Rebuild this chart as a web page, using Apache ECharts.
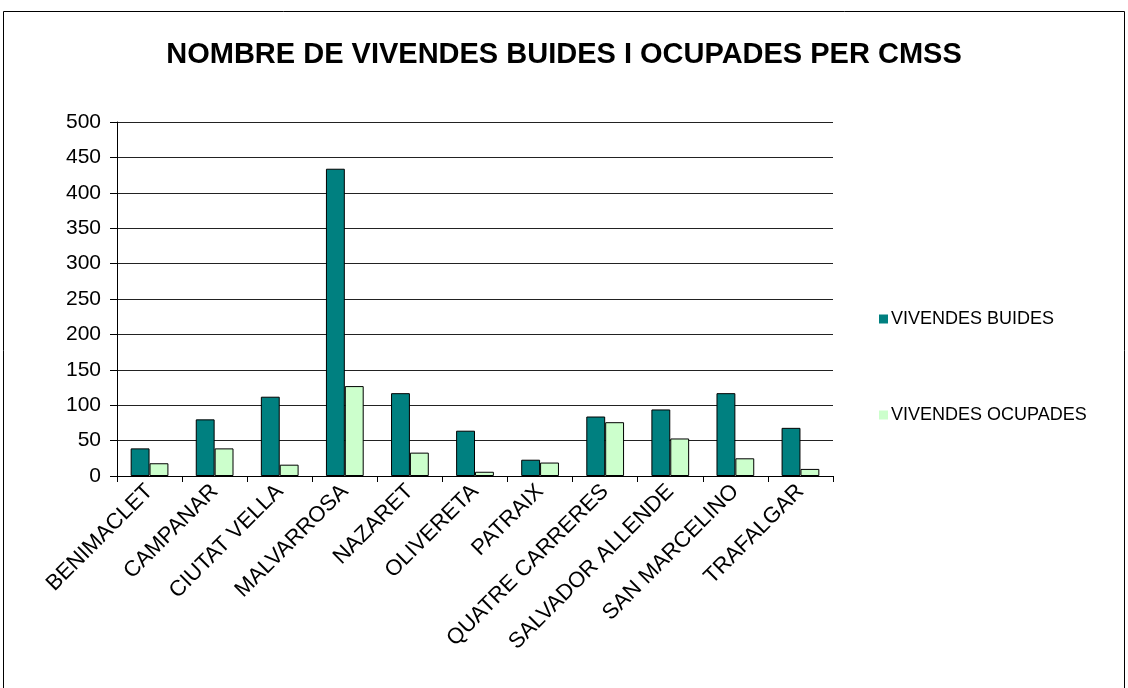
<html>
  <head>
    <meta charset="utf-8">
    <title>Vivendes per CMSS</title>
    <script src="https://cdn.jsdelivr.net/npm/echarts@6/dist/echarts.min.js"></script>
    <style>
      body { margin: 0; background: #fff; }
      #chart { width: 1128px; height: 688px; }
    </style>
  </head>
  <body>
    <div id="chart"></div>
    <script>
      // dades llegides del gràfic
      var categories = ['BENIMACLET', 'CAMPANAR', 'CIUTAT VELLA', 'MALVARROSA', 'NAZARET', 'OLIVERETA',
        'PATRAIX', 'QUATRE CARRERES', 'SALVADOR ALLENDE', 'SAN MARCELINO', 'TRAFALGAR'];
      var buides = [39, 80, 112, 434, 117, 64, 23, 84, 94, 117, 68];
      var ocupades = [18, 39, 16, 127, 33, 6, 19, 76, 53, 25, 10];
      var seriesNames = ['VIVENDES BUIDES', 'VIVENDES OCUPADES'];

      var chart = echarts.init(document.getElementById('chart'));
      chart.setOption({
        animation: false,
        textStyle: { fontFamily: 'Liberation Sans, Arial, sans-serif' },
        graphic: [{
          type: 'rect',
          shape: { x: 3.5, y: 11.5, width: 1121, height: 690 },
          style: { fill: 'none', stroke: '#000', lineWidth: 1 }
        }],
        title: {
          text: 'NOMBRE DE VIVENDES BUIDES I OCUPADES PER CMSS',
          left: 'center',
          top: 35,
          textStyle: { fontSize: 29, fontWeight: 'bold', color: '#000' }
        },
        legend: {
          orient: 'vertical',
          left: 874,
          top: 305,
          itemWidth: 9,
          itemHeight: 9,
          itemGap: 78,
          icon: 'rect',
          itemStyle: { borderWidth: 0 },
          textStyle: { fontSize: 18, color: '#000', padding: [0, 0, 0, -2] },
          data: seriesNames
        },
        grid: { left: 117, right: 295, top: 122, bottom: 212, containLabel: false },
        xAxis: {
          type: 'category',
          data: categories,
          axisLine: { lineStyle: { color: '#000', width: 1 } },
          axisTick: { show: true, length: 6, lineStyle: { color: '#000' } },
          axisLabel: { rotate: 45, fontSize: 22, color: '#000', margin: 12, interval: 0 }
        },
        yAxis: {
          type: 'value',
          min: 0,
          max: 500,
          interval: 50,
          axisLine: { show: true, lineStyle: { color: '#000', width: 1 } },
          axisTick: { show: true, length: 7, lineStyle: { color: '#000' } },
          axisLabel: { fontSize: 21, color: '#000', margin: 16 },
          splitLine: { lineStyle: { color: '#222', width: 1 } }
        },
        series: [{
          name: seriesNames[0],
          type: 'bar',
          data: buides,
          barGap: '0%',
          barCategoryGap: '42%',
          itemStyle: { color: '#008080', borderColor: '#000', borderWidth: 1 }
        }, {
          name: seriesNames[1],
          type: 'bar',
          data: ocupades,
          itemStyle: { color: '#CCFFCC', borderColor: '#000', borderWidth: 1 }
        }]
      });
    </script>
  </body>
</html>
